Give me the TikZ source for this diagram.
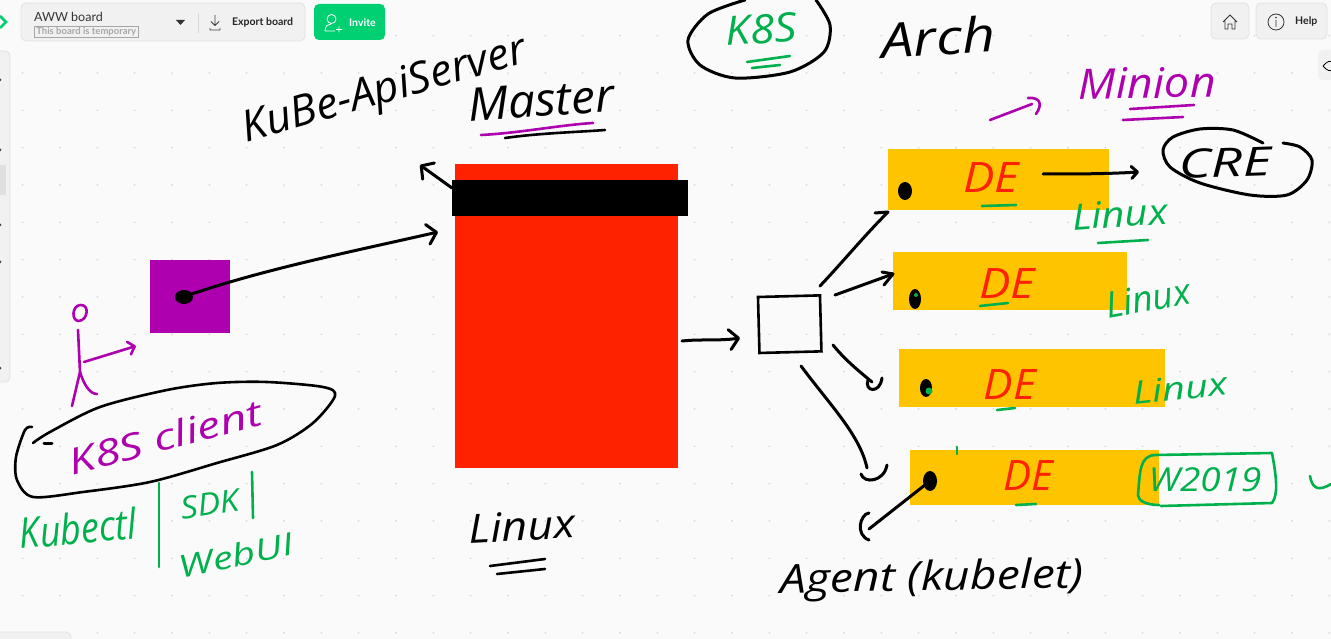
\documentclass[tikz,border=0pt]{standalone}
\usepackage{fontspec}
\setmainfont{Lato}
\newfontfamily\handfam{Open Sans}
\usetikzlibrary{arrows.meta}
\definecolor{bgcol}{HTML}{FAFAFA}
\definecolor{redcol}{HTML}{FF2200}
\definecolor{ambercol}{HTML}{FFC400}
\definecolor{plumcol}{HTML}{AE00AE}
\definecolor{inkgreen}{HTML}{00B04C}
\definecolor{invitecol}{HTML}{00CF72}
\definecolor{panelcol}{HTML}{F1F1F1}
\definecolor{edgecol}{HTML}{E2E2E2}
\newcommand{\handsize}[1]{\fontsize{#1}{#1}\selectfont\handfam\itshape}
\newcommand{\uisize}[1]{\fontsize{#1}{#1}\selectfont}
\tikzset{
  pane/.style={inner sep=0,outer sep=0,anchor=north west},
  hand/.style={inner sep=0,font=\handsize{#1}},
  ink/.style={line width=3pt,line cap=round,line join=round},
  thin ink/.style={line width=2.6pt,line cap=round,line join=round},
  barb/.style={-{Straight Barb[round,length=9pt,width=20pt]}},
  toolbar/.style={fill=panelcol,draw=edgecol,line width=0.8pt,rounded corners=5pt},
  ui/.style={inner sep=0,anchor=west,font=\uisize{#1}},
}
\begin{document}
\begin{tikzpicture}[x=1pt,y=-1pt]
\useasboundingbox (0,0) rectangle (1331,639);
\fill[bgcol] (0,0) rectangle (1331,639);
\foreach \i in {0,1,...,35}{
\foreach \j in {0,1,...,16}{
\fill[black!15] (22.7+37.33*\i,35.7+37.33*\j) circle (1);
}
}
% side panels
\draw[toolbar] (-8,51) rectangle (10,382);
\fill[black!12] (0,165) rectangle (6,195);
\foreach \y in {80,150,225,262,368}{
\fill[black!75] (0,\y) circle (1.5);
}
\draw[toolbar] (-8,632) rectangle (71,650);
\draw[toolbar,draw=none] (1318,50) rectangle (1340,80);
\draw[line width=0.8pt] (1323,66) .. controls (1327,61) and (1330,61) .. (1333,61);
\draw[line width=0.8pt] (1323,66) .. controls (1327,71) and (1330,71) .. (1333,71);
\draw[invitecol,line width=2.5pt] (0,16) -- (6,22) -- (0,28);
% top bar
\draw[toolbar] (21,3) rectangle (305,41);
\node[ui=12.5,text=black!80] (boardname) at (34,17) {AWW board};
\node[ui=9,text=black!35,font=\uisize{9.5}\bfseries,draw=black!35,line width=0.7pt,inner xsep=2pt,inner ysep=1pt] (boardnote) at (34,32) {This board is temporary};
\fill[black!80] (176,20) -- (185,20) -- (180.5,25) -- cycle;
\draw[black!15,line width=0.8pt] (198,13) -- (198,33);
\draw[black!75,line width=0.8pt] (215,15) -- (215,25) (211,21.5) -- (215,25.5) -- (219,21.5) (210,28) -- (210,30) -- (220,30) -- (220,28);
\node[ui=10.5,font=\uisize{10.5}\bfseries,text=black!85] (exportlabel) at (232,22.5) {Export board};
\fill[invitecol,rounded corners=5pt] (314,4) rectangle (385,40);
\draw[white,line width=0.8pt] (331.5,19) circle (4.5) (325,31) .. controls (325,26) and (328,24) .. (331,24) (336,29.5) -- (342,29.5) (339,26.5) -- (339,32.5) (325,31) -- (335,31);
\node[ui=10.5,font=\uisize{10.5}\bfseries,text=white] (invitelabel) at (349,22.5) {Invite};
\draw[toolbar] (1211,3) rectangle (1249,39);
\draw[black!80,line width=0.8pt] (1223,22) -- (1230,15) -- (1237,22) (1225,21) -- (1225,29) -- (1228,29) -- (1228,24) -- (1232,24) -- (1232,29) -- (1235,29) -- (1235,21);
\draw[toolbar] (1256,3) rectangle (1327,39);
\draw[black!80,line width=0.8pt] (1276,22) circle (8) (1276,20) -- (1276,27);
\fill[black!80] (1276,17.5) circle (0.9);
\node[ui=10.5,font=\uisize{10.5}\bfseries,text=black!85] (helplabel) at (1295,21.5) {Help};

% boxes
\node[pane,fill=redcol,minimum width=223,minimum height=304] (masterbox) at (455,164) {};
\node[pane,fill=black,minimum width=236,minimum height=36] (apibar) at (452,180) {};
\node[pane,fill=plumcol,minimum width=80,minimum height=73] (clientbox) at (150,260) {};
\foreach \name/\xa/\ya/\bw/\bh in {minionone/888/149/221/61,miniontwo/893/252/234/58,minionthree/899/349/266/58,minionfour/910/450/249/55}{
\node[pane,fill=ambercol,minimum width=\bw,minimum height=\bh] (\name) at (\xa,\ya) {};
}
\node[pane,draw=black,line width=2.6pt,minimum width=62,minimum height=56,rotate=1.5] (proxybox) at (758,297) {};

% texts
\node[hand=43,rotate=16,xscale=1.02] (apilabel) at (385,92) {KuBe-ApiServer};
\node[hand=46,rotate=4,xscale=1.04] (masterlabel) at (541,100) {Master};
\node[hand=40,text=inkgreen,rotate=4,xscale=1.1] (k8slabel) at (761,29) {K8S};
\node[hand=48,rotate=4,xscale=1.2] (archlabel) at (938,37) {Arch};
\node[hand=42,text=plumcol,rotate=1,xscale=1.07] (minionlabel) at (1147,83) {Minion};
\node[hand=40,rotate=2,xscale=1.38] (crelabel) at (1225,163) {CRE};
\node[hand=42,text=redcol,xscale=1.12] (deone) at (991,178) {DE};
\node[hand=42,text=redcol,xscale=1.12] (detwo) at (1007,284) {DE};
\node[hand=42,text=redcol,xscale=1.05] (dethree) at (1010,385) {DE};
\node[hand=42,text=redcol] (defour) at (1028,476) {DE};
\node[hand=36,text=inkgreen,rotate=4,xscale=1.12] (linuxone) at (1120,214) {Linux};
\node[hand=36,text=inkgreen,rotate=10,xscale=1] (linuxtwo) at (1148,298) {Linux};
\node[hand=32,text=inkgreen,rotate=6,xscale=1.25] (linuxthree) at (1180,388) {Linux};
\node[hand=33,text=inkgreen,xscale=1.12] (winlabel) at (1205,480) {W2019};
\node[hand=40,rotate=3,xscale=1.12] (linuxmaster) at (522,526) {Linux};
\node[hand=36,text=plumcol,rotate=15,xscale=1.3] (clientlabel) at (165,437) {K8S client};
\node[hand=42,text=inkgreen,rotate=5,xscale=0.86] (kubectllabel) at (78,528) {Kubectl};
\node[hand=31,text=inkgreen,rotate=8,xscale=1.1] (sdklabel) at (210,504) {SDK};
\node[hand=31,text=inkgreen,rotate=12,xscale=1.3] (webuilabel) at (236,555) {WebUI};
\node[hand=40,rotate=1,xscale=1.16] (agentlabel) at (932,580) {Agent (kubelet)};

% connectors
\coordinate (clientdot) at (183,297);
\coordinate (masterin) at (438,232);
\coordinate (apiout) at (420,165);
\coordinate (masterout) at (682,341);
\coordinate (proxyin) at (740,338);
\coordinate (oneout) at (820,286);
\coordinate (onein) at (888,212);
\coordinate (twoout) at (835,295);
\coordinate (twoin) at (893,274);
\coordinate (threeout) at (833,345);
\coordinate (threein) at (872,382);
\coordinate (fourout) at (801,366);
\coordinate (fourin) at (867,468);
\coordinate (creout) at (1043,174);
\coordinate (crein) at (1139,172);
\coordinate (agentfrom) at (930,481);
\coordinate (agentto) at (869,529);
\draw[ink,barb] (clientdot) .. controls (260,270) and (350,252) .. (masterin);
\draw[ink,barb] (apibar.north west) ++(0,8) -- (apiout);
\draw[ink,barb] (masterout) .. controls (700,339) and (720,341) .. (proxyin);
\draw[ink] (oneout) .. controls (840,265) and (865,235) .. (onein);
\draw[ink] (875,213) -- (onein);
\draw[ink] (twoout) -- (twoin);
\draw[ink] (882,272) -- (twoin) -- (884,285);
\draw[ink] (threeout) .. controls (845,360) and (860,372) .. (threein);
\draw[ink] (fourout) .. controls (830,405) and (860,435) .. (fourin);
\draw[ink,barb,-{Straight Barb[round,length=6pt,width=12pt]}] (creout) .. controls (1075,174) and (1105,174) .. (crein);
\draw[ink] (agentfrom) -- (agentto);
% hooks
\draw[ink] (868,380) .. controls (864,392) and (880,394) .. (882,378);
\draw[ink] (861,474) .. controls (864,484) and (884,482) .. (887,465);
\draw[ink] (869,513) .. controls (860,514) and (855,535) .. (869,540);
% blobs
\fill (184,297) ellipse (9 and 7);
\fill (905,191) ellipse (7 and 9);
\fill (915,299) ellipse (6 and 10);
\fill (926,388) ellipse (6 and 9);
\fill (930,481) ellipse (7 and 10);
\fill[inkgreen] (929,391) circle (3.5);
\fill[inkgreen] (916,295) circle (2);
% rings
\draw[ink] plot[smooth] coordinates {(745,0) (708,14) (688,40) (700,65) (735,78) (790,72) (824,52) (830,25) (816,0)};
\draw[thin ink] plot[smooth] coordinates {(33,443) (50,432) (100,407) (167,390) (217,383) (267,382) (323,387) (335,396) (313,423) (277,445) (217,463) (150,482) (83,492) (33,497) (17,480) (16,457) (25,430) (32,427)};
\draw[ink] plot[smooth] coordinates {(1263,143) (1233,130) (1200,129) (1173,137) (1163,150) (1170,167) (1200,183) (1250,195) (1287,195) (1307,180) (1312,160) (1300,147) (1283,143)};
\draw[ink] (44,443) -- (52,443);
\draw[thin ink,inkgreen] (1159,505) .. controls (1145,505) and (1138,500) .. (1138,495) .. controls (1140,470) and (1140,456) .. (1155,455) -- (1272,453) .. controls (1277,480) and (1278,495) .. (1272,503) -- (1161,506);
% underlines
\draw[thin ink,plumcol] (481,135) .. controls (520,133) and (560,125) .. (593,123);
\draw[thin ink] (505,138) .. controls (540,133) and (580,132) .. (605,130);
\draw[thin ink,inkgreen] (747,62) -- (790,56);
\draw[thin ink,inkgreen] (752,68) -- (780,65);
\draw[thin ink,plumcol] (1130,109) -- (1194,105);
\draw[thin ink,plumcol] (1123,120) -- (1183,117);
\draw[thin ink,plumcol] (990,120) -- (1032,104);
\draw[thin ink,plumcol] (1028,98) .. controls (1040,97) and (1043,104) .. (1036,114);
\draw[thin ink,inkgreen] (982,206) -- (1016,205);
\draw[thin ink,inkgreen] (980,306) -- (1008,303);
\draw[thin ink,inkgreen] (997,410) -- (1015,408);
\draw[thin ink,inkgreen] (1016,505) -- (1036,504);
\draw[thin ink,inkgreen] (1098,243) -- (1148,240);
\draw[thin ink,inkgreen] (957,447) -- (957,454);
\draw[thin ink,inkgreen] (1310,476) .. controls (1312,488) and (1318,492) .. (1331,484);
\draw[thin ink] (490,566) -- (545,559);
\draw[thin ink] (497,574) -- (545,569);
% stick figure
\draw[thin ink,plumcol] (80,305) .. controls (72,306) and (71,321) .. (79,321) .. controls (88,320) and (90,304) .. (80,305);
\draw[thin ink,plumcol] (78,330) -- (80,372) -- (72,406);
\draw[thin ink,plumcol] (80,372) .. controls (84,385) and (90,394) .. (97,394);
\draw[thin ink,plumcol,-{Straight Barb[round,length=6pt,width=13pt]}] (84,362) -- (136,346);
% bars
\draw[thin ink,inkgreen] (159,483) -- (159,567);
\draw[thin ink,inkgreen] (252,472) -- (253,518);
\end{tikzpicture}
\end{document}
